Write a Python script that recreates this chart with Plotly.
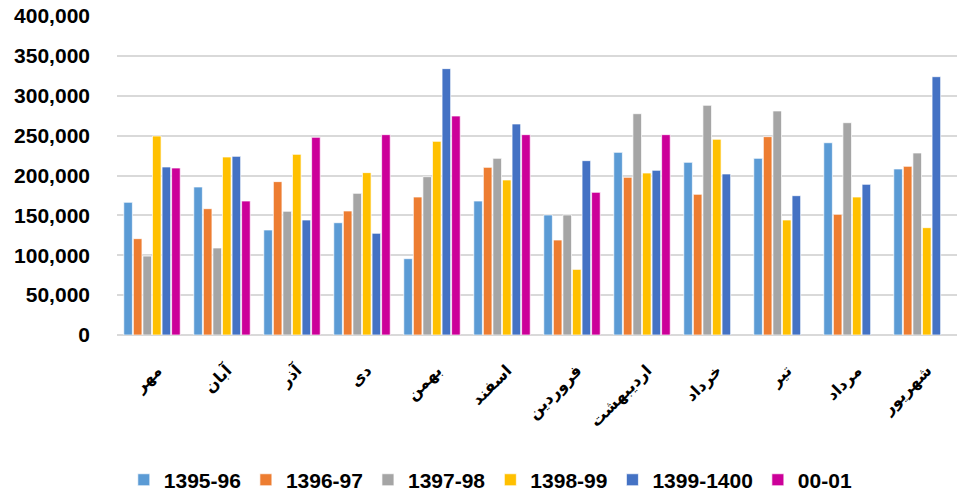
import plotly.graph_objects as go

months = ["مهر", "آبان", "آذر", "دی", "بهمن", "اسفند", "فروردین", "اردیبهشت", "خرداد", "تیر", "مرداد", "شهریور"]

s1395_96 = [166400, 185600, 131700, 140800, 95700, 168000, 150500, 229000, 216500, 221500, 241100, 208200]
s1396_97 = [120800, 158400, 192300, 155500, 173000, 210200, 119100, 197700, 176400, 248700, 151300, 211500]
s1397_98 = [99000, 109100, 155100, 177600, 198500, 221500, 150500, 277500, 288000, 280900, 266200, 228200]
s1398_99 = [249500, 223200, 226500, 203600, 242800, 194400, 82300, 203100, 245400, 144200, 173000, 134600]
s1399_1400 = [210700, 224000, 144200, 127500, 334000, 264600, 218600, 206500, 201900, 174700, 188900, 323900]
s00_01 = [209400, 168000, 247900, 251200, 274600, 251200, 178900, 251200, None, None, None, None]

series_names = ["1395-96", "1396-97", "1397-98", "1398-99", "1399-1400", "00-01"]
series_values = [s1395_96, s1396_97, s1397_98, s1398_99, s1399_1400, s00_01]
colors = ["#5B9BD5", "#ED7D31", "#A5A5A5", "#FFC000", "#4472C4", "#CC0099"]

y_ticks = [0, 50000, 100000, 150000, 200000, 250000, 300000, 350000, 400000]
y_tick_labels = ["0", "50,000", "100,000", "150,000", "200,000", "250,000", "300,000", "350,000", "400,000"]

fig = go.Figure()
for name, vals, col in zip(series_names, series_values, colors):
    fig.add_trace(go.Bar(
        x=months, y=vals, name=name,
        marker=dict(color=col, line=dict(color="white", width=0.7)),
    ))

font_fam = "Liberation Sans, Arial, DejaVu Sans, sans-serif"

fig.update_layout(
    width=961, height=497,
    margin=dict(l=117, r=4, t=16, b=162),
    plot_bgcolor="white", paper_bgcolor="white",
    barmode="group", bargap=0.18, bargroupgap=0.1,
    font=dict(family=font_fam, color="black"),
    xaxis=dict(
        tickangle=-45, automargin=False,
        tickfont=dict(size=16, family="DejaVu Sans", color="black", weight="bold"),
        showgrid=False, showline=False, ticks="",
        ticklabelstandoff=22, ticklabelshift=5,
    ),
    yaxis=dict(
        range=[0, 400000], automargin=False,
        tickvals=y_ticks, ticktext=y_tick_labels,
        tickfont=dict(size=21, family=font_fam, color="black", weight="bold"),
        showgrid=True, gridcolor="#D9D9D9", gridwidth=1.5,
        zeroline=True, zerolinecolor="#D9D9D9", zerolinewidth=1.5,
        ticks="", ticklabelstandoff=26,
    ),
    legend=dict(
        orientation="h", x=0.445, xanchor="center",
        yref="container", y=0.034, yanchor="middle",
        font=dict(size=21, family=font_fam, color="black", weight="bold"),
        itemwidth=30, traceorder="normal",
    ),
)

fig.write_html(
    "out.html",
    config={"displayModeBar": False},
    post_script="document.body.style.margin='0px';document.body.style.overflow='hidden';",
)
